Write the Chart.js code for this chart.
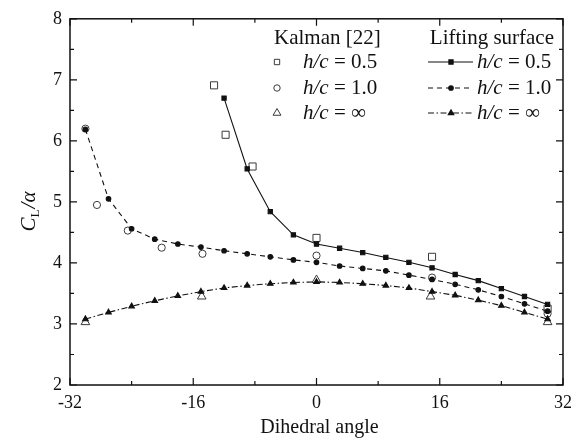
<!DOCTYPE html>
<html>
<head>
<meta charset="utf-8">
<script src="https://cdn.jsdelivr.net/npm/chart.js@4.4.1/dist/chart.umd.min.js"></script>
<style>
html,body{margin:0;padding:0;background:#fff;}
#wrap{width:582px;height:440px;position:relative;}
</style>
</head>
<body>
<div id="wrap"><canvas id="c" width="582" height="440"></canvas></div>
<script>
// ---- Data ----
const lsAngles05 = [-12,-9,-6,-3,0,3,6,9,12,15,18,21,24,27,30];
const ls05 = [6.70,5.54,4.84,4.46,4.31,4.24,4.17,4.09,4.01,3.92,3.81,3.71,3.58,3.45,3.32];
const lsAngles = [-30,-27,-24,-21,-18,-15,-12,-9,-6,-3,0,3,6,9,12,15,18,21,24,27,30];
const ls10 = [6.19,5.05,4.56,4.39,4.31,4.26,4.20,4.15,4.10,4.05,4.01,3.95,3.91,3.87,3.80,3.73,3.65,3.56,3.45,3.33,3.21];
const lsInf = [3.08,3.19,3.29,3.38,3.46,3.53,3.59,3.63,3.66,3.68,3.69,3.68,3.66,3.63,3.59,3.53,3.47,3.39,3.30,3.19,3.08];
const kAngles05 = [-13.3,-11.8,-8.3,0,15,30];
const k05 = [6.91,6.10,5.58,4.41,4.10,3.25];
const kAngles10 = [-30,-28.5,-24.5,-20.1,-14.8,0,15,30];
const k10 = [6.20,4.95,4.53,4.25,4.15,4.12,3.76,3.17];
const kAnglesInf = [-30,-14.9,0,14.8,30];
const kInf = [3.03,3.45,3.72,3.45,3.03];
const xTicks = [-32,-16,0,16,32];
const xMinor = [-24,-8,8,24];
const yTicks = [2,3,4,5,6,7,8];
const seriesLabels = ['h/c = 0.5','h/c = 1.0','h/c = \u221E'];

const pts = (xs, ys) => xs.map((x,i)=>({x:x,y:ys[i]}));
const SERIF = '"Liberation Serif","DejaVu Serif",serif';
const dashLine = [5,4];
const dashDot = [6,2.5,1.5,2.5];
const kColor = '#3a3a3a';

const datasets = [
  {label:'LS 0.5', data:pts(lsAngles05, ls05), borderColor:'#111', backgroundColor:'#111', borderWidth:1.1,
   pointStyle:'rect', pointRadius:3, tension:0, showLine:true},
  {label:'LS 1.0', data:pts(lsAngles, ls10), borderColor:'#111', backgroundColor:'#111', borderWidth:1.1, borderDash:dashLine,
   pointStyle:'circle', pointRadius:2.3, tension:0, showLine:true},
  {label:'LS inf', data:pts(lsAngles, lsInf), borderColor:'#111', backgroundColor:'#111', borderWidth:1.1, borderDash:dashDot,
   pointStyle:'triangle', pointRadius:3.2, tension:0, showLine:true},
  {label:'K 0.5', data:pts(kAngles05, k05), borderColor:kColor, backgroundColor:'rgba(0,0,0,0)', pointBorderWidth:1,
   pointStyle:'rect', pointRadius:5, showLine:false},
  {label:'K 1.0', data:pts(kAngles10, k10), borderColor:kColor, backgroundColor:'rgba(0,0,0,0)', pointBorderWidth:1,
   pointStyle:'circle', pointRadius:3.6, showLine:false},
  {label:'K inf', data:pts(kAnglesInf, kInf), borderColor:kColor, backgroundColor:'rgba(0,0,0,0)', pointBorderWidth:1,
   pointStyle:'triangle', pointRadius:5, showLine:false}
];

const LEG = 21;
function hcText(ctx, x, y, label){
  const it = 'italic ' + LEG + 'px ' + SERIF, up = LEG + 'px ' + SERIF;
  const rest = label.slice(3);
  ctx.textAlign = 'left'; ctx.textBaseline = 'middle';
  ctx.font = it; const w1 = ctx.measureText('h/c').width;
  ctx.fillText('h/c', x, y);
  ctx.font = up; ctx.fillText(rest, x + w1, y);
}

const deco = {
  id:'deco',
  afterDraw(chart){
    const ctx = chart.ctx, a = chart.chartArea, xs = chart.scales.x, ys = chart.scales.y;
    ctx.save();
    // frame
    ctx.strokeStyle = '#111'; ctx.lineWidth = 1.5; ctx.setLineDash([]);
    ctx.strokeRect(a.left, a.top, a.right - a.left, a.bottom - a.top);
    // inward ticks
    ctx.lineWidth = 1.2;
    const vt = (v, len) => { const p = xs.getPixelForValue(v);
      ctx.beginPath(); ctx.moveTo(p, a.bottom); ctx.lineTo(p, a.bottom - len);
      ctx.moveTo(p, a.top); ctx.lineTo(p, a.top + len); ctx.stroke(); };
    xTicks.forEach(v => vt(v, 7)); xMinor.forEach(v => vt(v, 4));
    const ht = (v, len) => { const p = ys.getPixelForValue(v);
      ctx.beginPath(); ctx.moveTo(a.left, p); ctx.lineTo(a.left + len, p);
      ctx.moveTo(a.right, p); ctx.lineTo(a.right - len, p); ctx.stroke(); };
    yTicks.forEach(v => ht(v, 7)); yTicks.slice(0,-1).forEach(v => ht(v + 0.5, 4));
    // x axis title
    ctx.fillStyle = '#111';
    ctx.font = '20px ' + SERIF; ctx.textAlign = 'center'; ctx.textBaseline = 'middle';
    ctx.fillText('Dihedral angle', (a.left + a.right) / 2 + 3, 428);
    // y axis title C_L / alpha
    ctx.save();
    ctx.translate(28, 212); ctx.rotate(-Math.PI / 2);
    ctx.textAlign = 'left'; ctx.textBaseline = 'alphabetic';
    ctx.font = 'italic 21px ' + SERIF; const wC = ctx.measureText('C').width;
    ctx.font = '13px ' + SERIF; const wL = ctx.measureText('L').width;
    ctx.font = 'italic 21px ' + SERIF; const wA = ctx.measureText('/\u03B1').width;
    let sx = -(wC + wL + wA) / 2;
    ctx.font = 'italic 21px ' + SERIF; ctx.fillText('C', sx, 7);
    ctx.font = '13px ' + SERIF; ctx.fillText('L', sx + wC, 11);
    ctx.font = 'italic 21px ' + SERIF; ctx.fillText('/\u03B1', sx + wC + wL + 1, 7);
    ctx.restore();
    // legend
    ctx.font = LEG + 'px ' + SERIF; ctx.textBaseline = 'middle';
    ctx.textAlign = 'left'; ctx.fillText('Kalman [22]', 274, 38);
    ctx.textAlign = 'right'; ctx.fillText('Lifting surface', 554, 38);
    const rows = [62, 88, 113];
    const styles = ['rect','circle','triangle'];
    const kr = [3.8, 3.2, 4.5], lr = [3, 2.3, 3.2];
    const dashes = [[], dashLine, dashDot];
    rows.forEach((ry, i) => {
      // Kalman marker (open)
      ctx.setLineDash([]); ctx.strokeStyle = kColor; ctx.fillStyle = 'rgba(0,0,0,0)'; ctx.lineWidth = 1;
      Chart.helpers.drawPoint(ctx, {pointStyle: styles[i], radius: kr[i], borderWidth: 1}, 277, ry);
      ctx.fillStyle = '#111';
      hcText(ctx, 303, ry, seriesLabels[i]);
      // LS sample
      ctx.strokeStyle = '#111'; ctx.lineWidth = 1.1; ctx.setLineDash(dashes[i]);
      ctx.beginPath(); ctx.moveTo(428, ry); ctx.lineTo(473, ry); ctx.stroke();
      ctx.setLineDash([]); ctx.fillStyle = '#111';
      Chart.helpers.drawPoint(ctx, {pointStyle: styles[i], radius: lr[i], borderWidth: 1}, 451, ry);
      hcText(ctx, 477, ry, seriesLabels[i]);
    });
    ctx.restore();
  }
};

new Chart(document.getElementById('c'), {
  type:'scatter',
  data:{datasets:datasets},
  options:{
    responsive:false, animation:false, devicePixelRatio:1,
    layout:{padding:{top:17, right:19, left:0, bottom:0}},
    plugins:{legend:{display:false}, tooltip:{enabled:false}},
    elements:{line:{fill:false}},
    scales:{
      x:{type:'linear', min:-32, max:32,
         afterBuildTicks:(s)=>{ s.ticks = xTicks.map(v=>({value:v})); },
         afterFit:(s)=>{ s.height = 55; },
         grid:{display:false, drawTicks:false}, border:{display:false},
         ticks:{padding:7, color:'#111', font:{family:SERIF, size:18}, maxRotation:0, autoSkip:false,
                callback:(v)=>String(v)}},
      y:{type:'linear', min:2, max:8,
         afterBuildTicks:(s)=>{ s.ticks = yTicks.map(v=>({value:v})); },
         afterFit:(s)=>{ s.width = 70; },
         grid:{display:false, drawTicks:false}, border:{display:false},
         ticks:{padding:8, color:'#111', font:{family:SERIF, size:18}, callback:(v)=>String(v)}}
    }
  },
  plugins:[deco]
});
</script>
</body>
</html>
